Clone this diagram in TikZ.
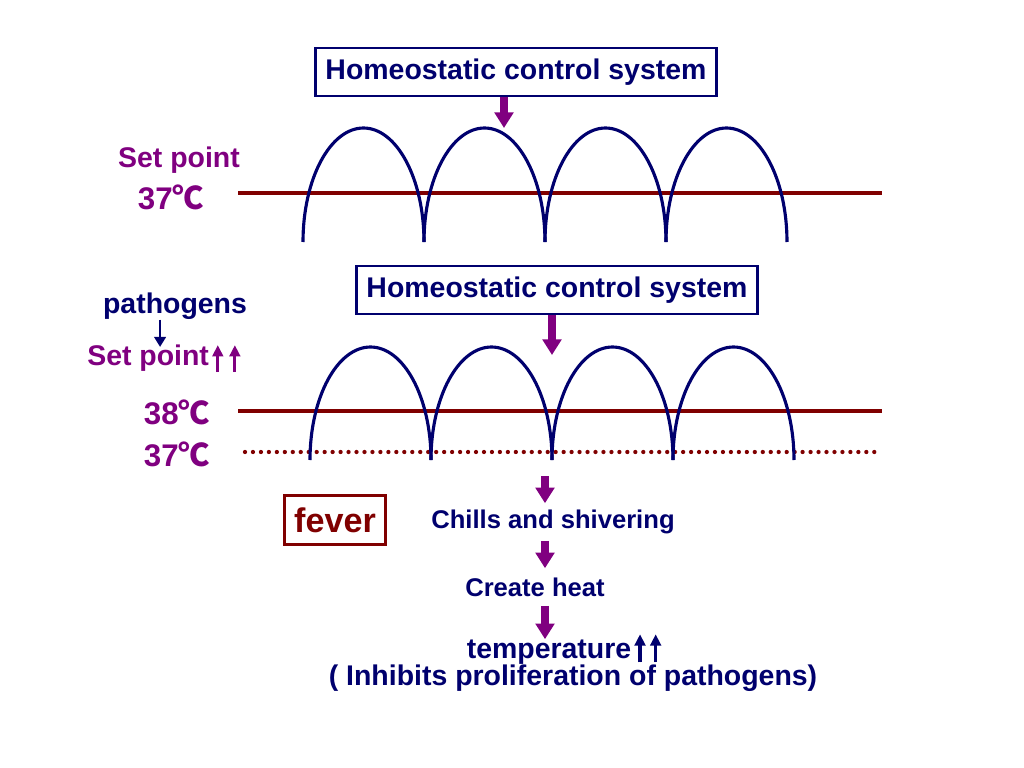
\documentclass[tikz,border=0pt]{standalone}
\usepackage{fontspec}
\setmainfont{Liberation Sans}
\newfontfamily\cjk{Noto Sans CJK SC}
\usetikzlibrary{arrows.meta,positioning}
\definecolor{hcsnavy}{RGB}{0,0,110}
\definecolor{hcspurple}{RGB}{128,0,128}
\definecolor{hcsred}{RGB}{128,0,0}
\newcommand{\degc}{{\cjk ℃}}
\tikzset{
  ctrlbox/.style={draw=hcsnavy, line width=1.7pt, text=hcsnavy, inner xsep=7pt, minimum height=34pt,
    font=\fontsize{20}{24}\selectfont\bfseries},
  feverbox/.style={draw=hcsred, line width=2.2pt, text=hcsred, minimum width=71pt, minimum height=34pt,
    font=\fontsize{24}{28}\selectfont\bfseries},
  leftlbl/.style={text=hcspurple, inner sep=0pt, font=\fontsize{20}{24}\selectfont\bfseries},
  templbl/.style={text=hcspurple, inner sep=0pt, font=\fontsize{22}{26}\selectfont\bfseries},
  steplbl/.style={text=hcsnavy, inner sep=0pt, minimum height=26pt, font=\fontsize{18}{22}\selectfont\bfseries},
  biglbl/.style={text=hcsnavy, inner sep=0pt, font=\fontsize{20}{24}\selectfont\bfseries},
  parrow/.style={draw=hcspurple, line width=5pt, -{Triangle[width=13pt,length=11pt]}},
  narrow/.style={draw=hcsnavy, line width=2pt, -{Triangle[width=8pt,length=7pt]}},
  uparrow/.style={line width=2.3pt, -{Triangle[width=7.5pt,length=8pt]}},
  arch/.style={draw=hcsnavy, line width=2.2pt},
  setline/.style={draw=hcsred, line width=2.8pt},
  oldline/.style={draw=hcsred, line width=3pt, line cap=round, dash pattern=on 0pt off 5.6pt}
}
\begin{document}
\begin{tikzpicture}[x=0.703pt, y=-0.703pt]
  \fill[white] (0,0) rectangle (1024,768);
  \useasboundingbox (0,0) rectangle (1024,768);

  % normal state
  \node[ctrlbox] (hcs1) at (516,72) {Homeostatic control system};
  \node[leftlbl] (setA) at (179,160) {Set point};
  \node[templbl] (tA) at (171,197) {37\degc};
  \draw[setline] (238,193) -- (882,193);
  \foreach \i in {0,...,3}
    \draw[arch] (303+121*\i,242) arc[start angle=180, end angle=360, x radius=60.5, y radius=114];
  \coordinate (tip1) at (504,128);
  \draw[parrow] (hcs1.south -| tip1) -- (tip1);

  % raised set point
  \node[ctrlbox] (hcs2) at (557,290) {Homeostatic control system};
  \node[biglbl] (path) at (175,306) {pathogens};
  \node[leftlbl, anchor=base west] (setB) at (87,365) {Set point};
  \foreach \dx in {6pt,18pt}
    \draw[uparrow, draw=hcspurple, fill=hcspurple] ([xshift=\dx,yshift=-5pt]setB.base east) -- ++(0,-27);
  \node[templbl] (t38) at (177,412) {38\degc};
  \node[templbl] (t37) at (177,454) {37\degc};
  \draw[narrow] ([xshift=-10.5pt]path.south) -- ([xshift=-10.5pt,yshift=-2pt]path.south |- setB.north);
  \draw[setline] (238,411) -- (882,411);
  \draw[oldline] (245,452) -- (880,452);
  \foreach \i in {0,...,3}
    \draw[arch] (310+121*\i,460) arc[start angle=180, end angle=360, x radius=60.5, y radius=113];
  \coordinate (tip2) at (552,355);
  \draw[parrow] (hcs2.south -| tip2) -- (tip2);

  % response
  \node[feverbox] (fever) at (335,520) {fever};
  \coordinate (spine) at (545,476);
  \node[steplbl] (chills) at (553,522) {Chills and shivering};
  \node[steplbl] (heat) at (535,587) {Create heat};
  \node[biglbl, anchor=base] (temp) at (549,658) {temperature};
  \foreach \dx in {6pt,17pt}
    \draw[uparrow, draw=hcsnavy, fill=hcsnavy] ([xshift=\dx,yshift=-3pt]temp.base east) -- ++(0,-28);
  \node[biglbl] (inhib) at (573,678) {( Inhibits proliferation of pathogens)};
  \draw[parrow] (spine) -- (chills.north -| spine);
  \draw[parrow] (chills.south -| spine) -- (heat.north -| spine);
  \draw[parrow] (heat.south -| spine) -- (temp.north -| spine);
\end{tikzpicture}
\end{document}
